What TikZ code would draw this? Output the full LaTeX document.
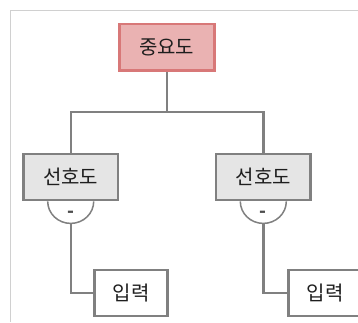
\documentclass[tikz,border=0pt]{standalone}
\usepackage{fontspec}
\setmainfont{Noto Sans CJK KR}
\usetikzlibrary{positioning}
\definecolor{rosefill}{HTML}{EAB2B2}
\definecolor{roseline}{HTML}{D87878}
\definecolor{boxgray}{HTML}{E5E5E5}
\definecolor{linegray}{HTML}{808080}
\definecolor{framegray}{HTML}{D0D0D0}
\definecolor{textdark}{HTML}{1E1E1E}

\begin{document}
\begin{tikzpicture}[x=1pt, y=-1pt,
	box/.style={draw=linegray, line width=2.8pt, minimum height=46pt, inner sep=0pt,
		text=textdark, font=\fontsize{20}{22}\selectfont},
	rootbox/.style={box, draw=roseline, fill=rosefill, minimum width=95pt, minimum height=46.5pt},
	prefbox/.style={box, fill=boxgray, minimum width=94.5pt},
	inbox/.style={box, fill=white, minimum width=73.5pt},
	wire/.style={draw=linegray, line width=2.4pt},
	cup/.style={draw=linegray, line width=1.5pt},
	signlabel/.style={inner sep=0pt, text=linegray!60!black, font=\fontsize{18}{18}\bfseries}]
	\useasboundingbox (0,0) rectangle (358,322);
	\clip (0,0) rectangle (358,322);
	\fill[white] (0,0) rectangle (358,322);
	\draw[framegray, line width=1pt] (10,322) -- (10,10) -- (358,10);
	
	\node[rootbox] (imp) at (166.7,47.3) {중요도};
	\node[prefbox] (prefL) at (70.7,177) {선호도};
	\node[prefbox] (prefR) at (263.3,177) {선호도};
	\node[inbox] (inL) at (131,293) {입력};
	\node[inbox] (inR) at (325,293) {입력};
	
	\coordinate (split) at (166.7,111.7);
	\draw[wire] (imp.south) -- (split) -| (prefL.north);
	\draw[wire] (split) -| (prefR.north);
	
	\draw[cup] ([xshift=-23pt]prefL.south) arc (180:360:23pt and 22pt);
	\draw[cup] ([xshift=-23pt]prefR.south) arc (180:360:23pt and 22pt);
	\node[signlabel] (minusL) at ([yshift=-13pt]prefL.south) {-};
	\node[signlabel] (minusR) at ([yshift=-13pt]prefR.south) {-};
	
	\coordinate (tailL) at ([yshift=-22pt]prefL.south);
	\coordinate (tailR) at ([yshift=-22pt]prefR.south);
	\draw[wire] (tailL) |- (inL.west);
	\draw[wire] (tailR) |- (inR.west);
\end{tikzpicture}
\end{document}
